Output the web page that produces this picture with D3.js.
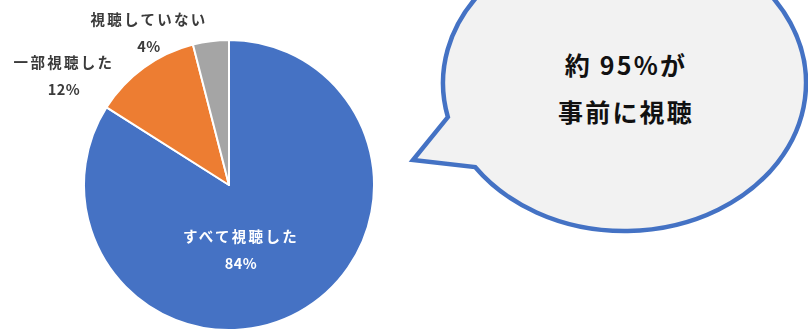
<!DOCTYPE html>
<html>
<head>
<meta charset="utf-8">
<script src="https://cdn.jsdelivr.net/npm/d3@7"></script>
<style>
  html, body { margin: 0; padding: 0; background: #ffffff; }
  svg { display: block; }
</style>
</head>
<body>
<svg id="chart" width="808" height="333"></svg>
<script>
// Survey: share of respondents who watched the material in advance
const categories = ["すべて視聴した", "一部視聴した", "視聴していない"];
const shares = [84, 12, 4];
const sliceColors = ["#4472C4", "#ED7D31", "#A5A5A5"];
const calloutLines = ["約 95%が", "事前に視聴"];

const width = 808, height = 333;
const svg = d3.select("#chart");

// ---- pie layout ----
const cx = 229, cy = 185, radius = 145;

const defs = svg.append("defs");
defs.append("filter").attr("id", "soft")
  .attr("x", "-5%").attr("y", "-5%").attr("width", "110%").attr("height", "110%")
  .append("feGaussianBlur").attr("stdDeviation", 0.55);

const pie = d3.pie().sort(null).value(d => d.value);
const arcs = pie(shares.map((v, i) => ({ name: categories[i], value: v, color: sliceColors[i] })));
const arc = d3.arc().innerRadius(0).outerRadius(radius);

const pieG = svg.append("g")
  .attr("transform", `translate(${cx},${cy})`)
  .attr("filter", "url(#soft)");

pieG.selectAll("path.slice")
  .data(arcs)
  .join("path")
  .attr("class", "slice")
  .attr("d", arc)
  .attr("fill", d => d.data.color)
  .attr("stroke", "#ffffff")
  .attr("stroke-width", 2)
  .attr("stroke-linejoin", "round");

// label anchors (offset from the pie centre) for each slice
const labelAnchors = [
  { dx: 12, dy: 50, fill: "#ffffff" },
  { dx: -165, dy: -124, fill: "#3a3a3a" },
  { dx: -80, dy: -167, fill: "#3a3a3a" }
];
const lineGap = 27;

const labels = pieG.selectAll("g.label")
  .data(arcs)
  .join("g")
  .attr("class", "label")
  .attr("transform", (d, i) => `translate(${labelAnchors[i].dx},${labelAnchors[i].dy})`);

labels.each(function (d, i) {
  const g = d3.select(this);
  const lines = [d.data.name, `${d.data.value}%`];
  lines.forEach((t, k) => {
    g.append("text")
      .attr("x", 0)
      .attr("y", k * lineGap)
      .attr("text-anchor", "middle")
      .attr("dominant-baseline", "central")
      .attr("font-family", "'Noto Sans CJK JP', 'Noto Sans', sans-serif")
      .attr("font-size", 14.5)
      .attr("font-weight", 700)
      .attr("letter-spacing", k === 0 ? 2.3 : 0.5)
      .attr("fill", labelAnchors[i].fill)
      .text(t);
  });
});

// ---- speech bubble callout ----
const ex = 624.5, ey = 83, rx = 181.5, ry = 148;
const onEllipse = deg => {
  const a = deg * Math.PI / 180;
  return [ex + rx * Math.cos(a), ey + ry * Math.sin(a)];
};
const tailStart = onEllipse(166.7);
const tailEnd = onEllipse(145.4);
const tailTip = [413, 160];

// large clockwise arc around the ellipse from the upper tail base to the lower one, then the tail
const bubbleD = `M${tailStart[0]},${tailStart[1]} A${rx},${ry} 0 1 1 ${tailEnd[0]},${tailEnd[1]} L${tailTip[0]},${tailTip[1]} Z`;

svg.append("path")
  .attr("d", bubbleD)
  .attr("fill", "#F2F2F2")
  .attr("stroke", "#4472C4")
  .attr("stroke-width", 4.5)
  .attr("stroke-linejoin", "miter");

const calloutY = [64, 110.5];
svg.append("g").selectAll("text")
  .data(calloutLines)
  .join("text")
  .attr("x", 626)
  .attr("y", (d, i) => calloutY[i])
  .attr("text-anchor", "middle")
  .attr("dominant-baseline", "central")
  .attr("font-family", "'Noto Sans CJK JP', 'Noto Sans', sans-serif")
  .attr("font-size", 25)
  .attr("font-weight", 700)
  .attr("letter-spacing", 2.2)
  .attr("fill", "#111111")
  .text(d => d);
</script>
</body>
</html>
